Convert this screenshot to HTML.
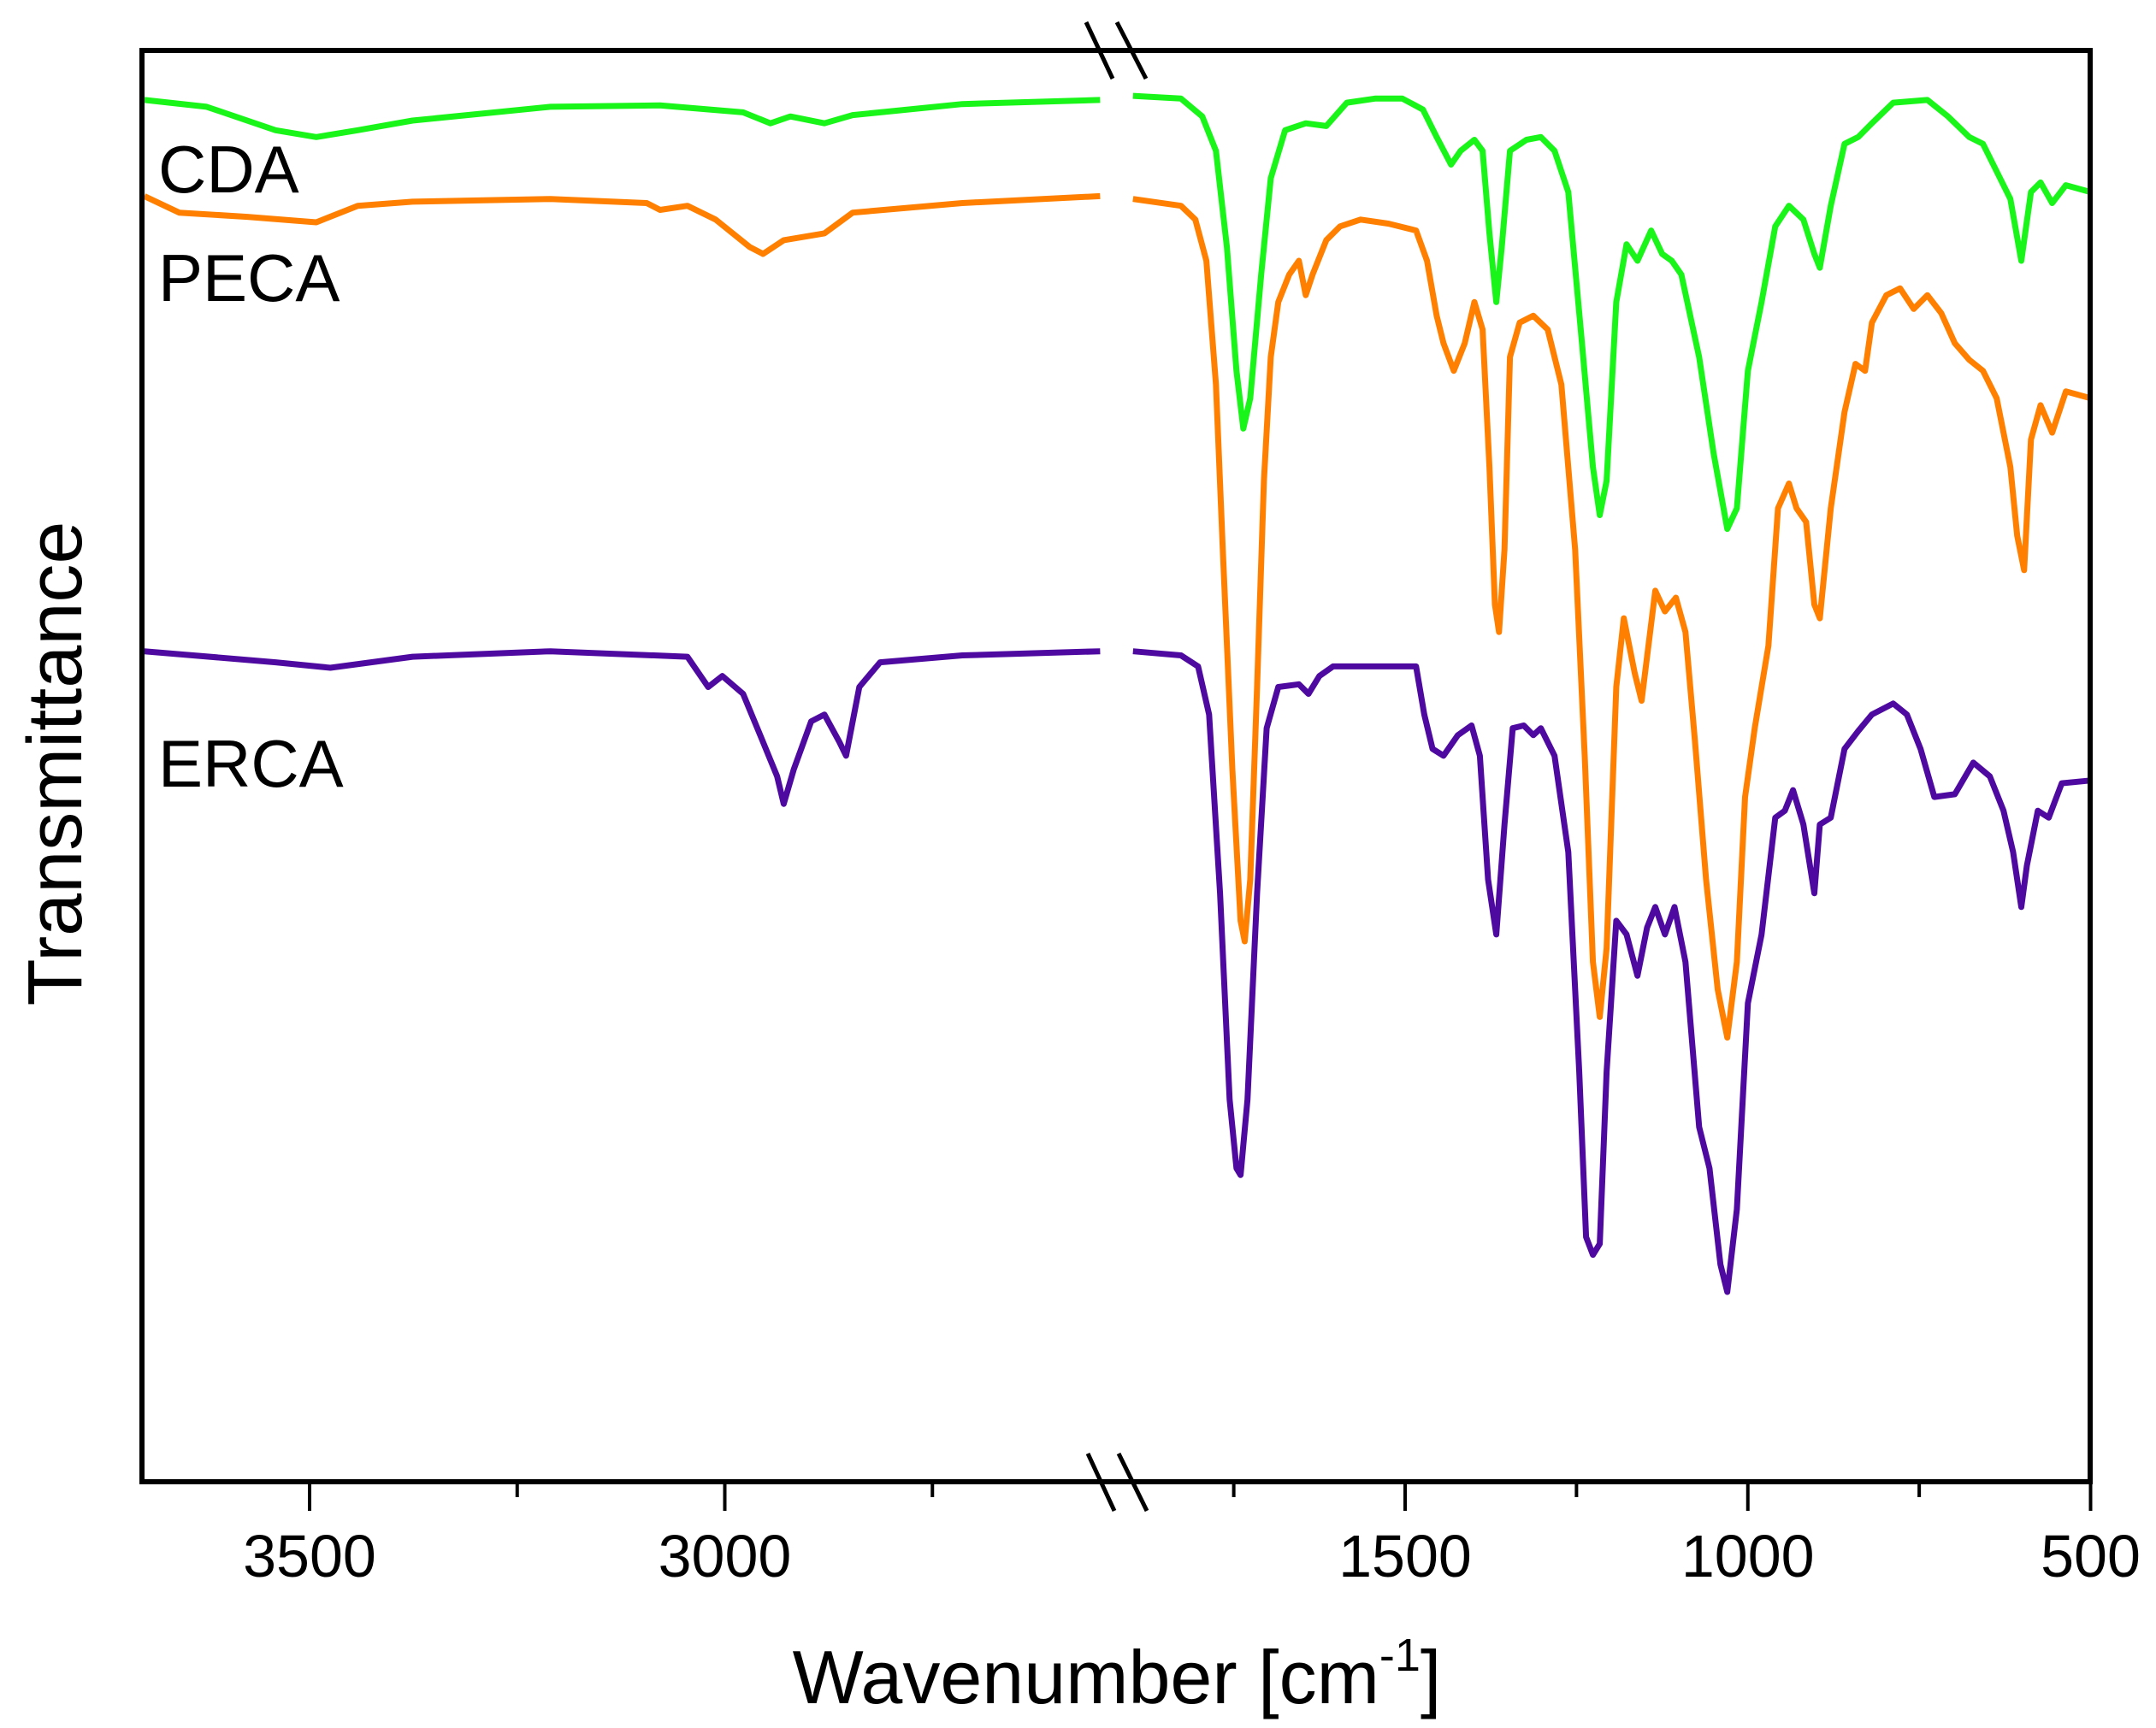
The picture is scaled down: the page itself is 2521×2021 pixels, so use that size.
<!DOCTYPE html>
<html><head><meta charset="utf-8">
<style>
html,body{margin:0;padding:0;background:#fff;}
svg{display:block;font-family:"Liberation Sans",Arial,sans-serif;}
</style></head>
<body>
<svg id="chart" width="2521" height="2021" viewBox="0 0 2521 2021" xmlns="http://www.w3.org/2000/svg">
<rect width="2521" height="2021" fill="#fff"/>
<g id="series"></g>
<rect x="166" y="59" width="2278" height="1674" fill="none" stroke="#000" stroke-width="6"/>
<g id="ticks"></g>
<g stroke="#000" stroke-width="5">
<line x1="1270" y1="26" x2="1301" y2="92"/><line x1="1306" y1="26" x2="1340" y2="92"/>
</g>
<g stroke="#000" stroke-width="5">
<line x1="1272" y1="1700" x2="1303" y2="1767"/><line x1="1308" y1="1700" x2="1341" y2="1767"/>
</g>
<text x="185" y="225" font-size="78">CDA</text>
<text x="185" y="352" font-size="78">PECA</text>
<text x="185" y="920" font-size="78">ERCA</text>
<text x="0" y="0" font-size="90" text-anchor="middle" transform="translate(95,893) rotate(-90)">Transmittance</text>
<text x="1306" y="1992" font-size="88" text-anchor="middle">Wavenumber [cm<tspan font-size="54" dy="-38">-1</tspan><tspan dy="38">]</tspan></text>
</svg>
<script>
// Wavenumbers (cm-1) and transmittance (arbitrary units, 0..1041)
const cdaLeftW = [3699,3624,3541,3492,3442,3376,3210,3078,2978,2945,2921,2880,2846,2714,2548];
const cdaLeftT = [1005,1000,983,978,983,990,1000,1001,996,988,993,988,994,1002,1005];
const cdaRightW = [1897,1827,1796,1776,1760,1746,1736,1726,1710,1696,1675,1645,1615,1585,1544,1504,1474,1454,1433,1419,1399,1387,1377,1367,1359,1347,1323,1302,1282,1262,1242,1226,1216,1206,1192,1177,1161,1141,1125,1111,1097,1071,1050,1030,1016,1000,980,960,940,919,903,895,879,859,839,819,788,738,708,677,657,637,617,601,587,573,556,536,500];
const cdaRightT = [1008,1006,993,968,898,808,766,788,878,948,983,988,986,1003,1006,1006,998,978,958,968,976,968,908,858,898,968,976,978,968,938,828,738,703,728,858,900,888,910,893,888,878,818,748,693,708,808,858,913,928,918,893,883,928,973,978,988,1003,1005,993,978,973,953,933,888,938,945,930,943,938];

const pecaLeftW = [3699,3657,3575,3492,3442,3376,3210,3094,3078,3045,3011,2970,2954,2929,2880,2846,2714,2548];
const pecaLeftT = [935,923,920,916,928,931,933,930,925,928,918,898,893,903,908,923,930,935];
const pecaRightW = [1897,1827,1806,1790,1776,1766,1752,1740,1734,1726,1716,1706,1696,1685,1669,1655,1645,1635,1615,1595,1565,1524,1484,1468,1454,1444,1429,1413,1399,1387,1377,1369,1363,1355,1347,1333,1313,1292,1272,1252,1238,1226,1216,1206,1192,1181,1165,1155,1145,1135,1121,1105,1091,1077,1061,1044,1030,1016,1004,990,970,956,940,929,915,903,895,879,859,843,829,819,798,778,758,738,718,698,677,657,637,617,607,597,587,573,556,536,500];
const pecaRightT = [933,928,918,888,798,678,518,408,393,438,578,728,818,858,878,888,863,878,903,913,918,915,910,888,848,828,808,828,858,838,738,638,618,678,818,843,848,838,798,678,528,378,338,388,578,628,588,568,608,648,633,643,618,538,438,358,323,378,498,548,608,708,726,708,698,638,628,708,778,813,808,843,863,868,853,863,850,828,816,808,788,738,688,663,758,783,763,793,788];

const ercaLeftW = [3699,3541,3475,3376,3210,3045,3020,3003,2978,2954,2937,2929,2917,2896,2880,2862,2854,2838,2813,2714,2548];
const ercaLeftT = [604,596,592,600,604,600,578,586,573,538,513,493,518,553,558,538,528,578,596,601,604];
const ercaRightW = [1897,1827,1802,1786,1770,1756,1746,1740,1730,1716,1702,1685,1655,1641,1625,1605,1544,1484,1472,1460,1444,1423,1403,1391,1379,1367,1355,1343,1327,1313,1302,1282,1262,1246,1236,1226,1216,1206,1192,1177,1161,1147,1135,1121,1107,1091,1071,1056,1040,1030,1016,1000,980,960,946,934,919,903,895,879,859,839,819,788,768,748,728,698,671,647,627,613,601,593,577,561,542,500];
const ercaRightT = [604,601,593,558,428,278,228,223,278,428,548,578,580,573,586,593,593,593,558,533,528,543,550,528,438,398,478,548,550,543,548,528,458,298,178,165,173,298,408,398,368,403,418,398,418,378,258,228,158,138,198,348,398,483,488,503,478,428,478,483,533,546,558,566,558,533,498,500,523,513,488,458,418,448,488,483,508,510];

const xLeft = w => 362 + (3500 - w) * 0.971;
const xRight = w => 1643 + (1500 - w) * 0.8015;
const yScale = t => 59 + (1041 - t) * 1.608;

const NS = "http://www.w3.org/2000/svg";
const gS = document.getElementById('series');
function seg(W, T, xf, color, name) {
  const p = document.createElementNS(NS, 'path');
  let d = '';
  for (let i = 0; i < W.length; i++) d += (i ? 'L' : 'M') + xf(W[i]).toFixed(1) + ' ' + yScale(T[i]).toFixed(1);
  p.setAttribute('d', d);
  p.setAttribute('fill', 'none');
  p.setAttribute('stroke', color);
  p.setAttribute('stroke-width', '7');
  p.setAttribute('stroke-linejoin', 'round');
  
  
  gS.appendChild(p);
}
seg(cdaLeftW, cdaLeftT, xLeft, '#19f519', 'cda-line-left');
seg(cdaRightW, cdaRightT, xRight, '#19f519', 'cda-line-right');
seg(pecaLeftW, pecaLeftT, xLeft, '#ff8000', 'peca-line-left');
seg(pecaRightW, pecaRightT, xRight, '#ff8000', 'peca-line-right');
seg(ercaLeftW, ercaLeftT, xLeft, '#4e0aa0', 'erca-line-left');
seg(ercaRightW, ercaRightT, xRight, '#4e0aa0', 'erca-line-right');

const majorLeft = [3500, 3000];
const minorLeft = [3250, 2750];
const majorRight = [1500, 1000, 500];
const minorRight = [1750, 1250, 750];
const gT = document.getElementById('ticks');
function tick(x, len, label) {
  const l = document.createElementNS(NS, 'line');
  l.setAttribute('x1', x); l.setAttribute('x2', x);
  l.setAttribute('y1', 1733); l.setAttribute('y2', 1733 + len);
  l.setAttribute('stroke', '#000'); l.setAttribute('stroke-width', '4');
  
  
  gT.appendChild(l);
  if (label !== null) {
    const t = document.createElementNS(NS, 'text');
    t.setAttribute('x', x); t.setAttribute('y', 1844);
    t.setAttribute('font-size', '70'); t.setAttribute('text-anchor', 'middle');
    t.textContent = label;
    
    
    gT.appendChild(t);
  }
}
majorLeft.forEach(w => tick(xLeft(w), 34, String(w)));
minorLeft.forEach(w => tick(xLeft(w), 18, null));
majorRight.forEach(w => tick(xRight(w), 34, String(w)));
minorRight.forEach(w => tick(xRight(w), 18, null));
</script>
</body></html>
